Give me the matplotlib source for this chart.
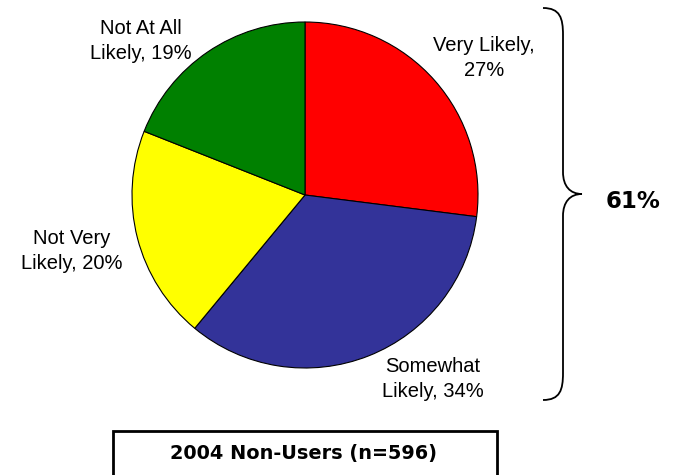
import matplotlib.pyplot as plt
from matplotlib.path import Path
from matplotlib.patches import PathPatch, Rectangle

# data
categories = ['Very Likely', 'Somewhat Likely', 'Not Very Likely', 'Not At All Likely']
shares = [27, 34, 20, 19]
colors = ['#FF0000', '#333399', '#FFFF00', '#008000']
label_texts = ['Very Likely,\n27%', 'Somewhat\nLikely, 34%', 'Not Very\nLikely, 20%', 'Not At All\nLikely, 19%']
bracket_total = '61%'
box_title = '2004 Non-Users (n=596)'

W, H = 681, 475


def py(y):
    # pixel row (from top) to data y
    return H - y


fig = plt.figure(figsize=(6.81, 4.75), dpi=100)
ax = fig.add_axes([0, 0, 1, 1])
ax.set_xlim(0, W)
ax.set_ylim(0, H)
ax.set_aspect('equal')
ax.axis('off')

ax.pie(shares, colors=colors, startangle=90, counterclock=False,
       center=(305, py(195)), radius=173, frame=True,
       wedgeprops=dict(edgecolor='black', linewidth=0.8))
ax.set_xlim(0, W)
ax.set_ylim(0, H)
ax.axis('off')

label_pos = [(484, 58), (433, 379), (72, 251), (141, 41)]
for txt, (x, y) in zip(label_texts, label_pos):
    ax.text(x, py(y), txt, ha='center', va='center', fontsize=14.5,
            family='Liberation Sans', linespacing=1.45)

# curly brace on the right
verts = [
    (543, 8), (560, 8), (563, 18), (563, 35),
    (563, 172),
    (563, 186), (570, 194), (582, 194),
    (570, 194), (563, 202), (563, 216),
    (563, 373),
    (563, 390), (560, 400), (543, 400),
]
codes = [Path.MOVETO, Path.CURVE4, Path.CURVE4, Path.CURVE4,
         Path.LINETO,
         Path.CURVE4, Path.CURVE4, Path.CURVE4,
         Path.CURVE4, Path.CURVE4, Path.CURVE4,
         Path.LINETO,
         Path.CURVE4, Path.CURVE4, Path.CURVE4]
brace = Path([(x, py(y)) for x, y in verts], codes)
ax.add_patch(PathPatch(brace, facecolor='none', edgecolor='black', linewidth=1.3))

ax.text(633, py(202), bracket_total, ha='center', va='center', fontsize=16.5,
        fontweight='bold', family='DejaVu Sans')

# title box at the bottom
ax.add_patch(Rectangle((113, py(490)), 384, 59, facecolor='white',
                       edgecolor='black', linewidth=2, clip_on=False))
ax.text(304, py(453), box_title, ha='center', va='center', fontsize=13.9,
        fontweight='bold', family='DejaVu Sans')

fig.savefig('out.png', dpi=100)
